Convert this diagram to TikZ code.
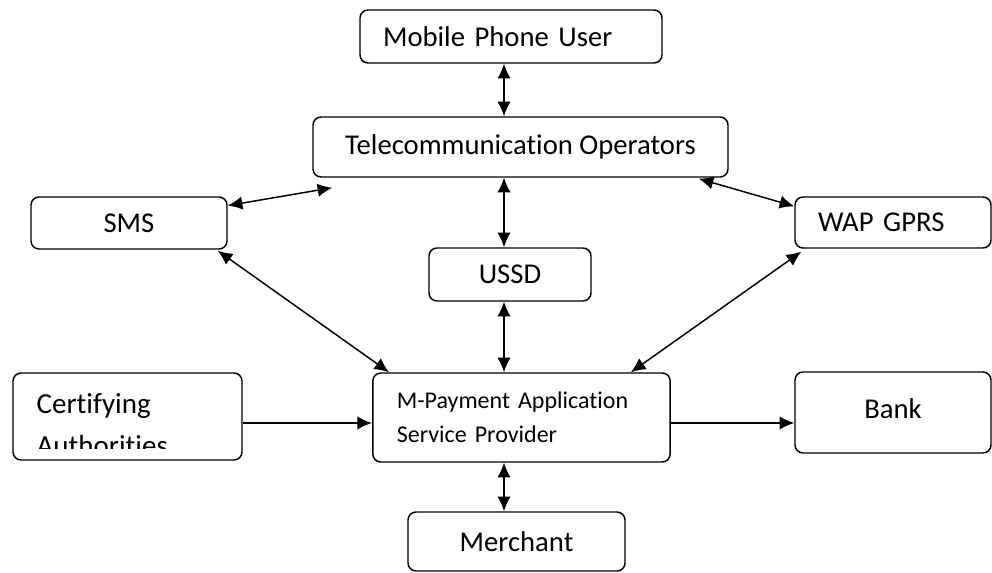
\documentclass[tikz,border=0pt]{standalone}
\usepackage{fontspec}
\setmainfont{Carlito}[Ligatures=NoCommon]
\usetikzlibrary{arrows.meta}
\usetikzlibrary{calc}

\begin{document}
\begin{tikzpicture}[x=0.75pt,y=-0.75pt]
	\tikzstyle{rbox}=[draw, rounded corners=6pt, line width=1.1pt, inner sep=0pt, font=\fontsize{21.5}{26}\selectfont]
	\tikzstyle{lbox}=[rbox, align=left, inner xsep=17.25pt]
	\tikzstyle{link}=[{Latex[length=11pt,width=10pt]}-{Latex[length=11pt,width=10pt]}, line width=1.1pt]
	\tikzstyle{oneway}=[-{Latex[length=11pt,width=10pt]}, line width=1.1pt]
	\useasboundingbox (0,0) rectangle (992,573);
	
	\node[lbox, text width=192pt, minimum height=39.75pt] (mobile) at (511,36.5) {Mobile Phone User};
	\node[rbox, minimum width=311.25pt, minimum height=45pt] (telecom) at (520.5,147) {Telecommunication Operators};
	\node[rbox, minimum width=147pt, minimum height=39pt] (sms) at (129,223) {SMS};
	\node[lbox, text width=112.5pt, minimum height=38.25pt] (wap) at (893,222.5) {WAP GPRS};
	\node[rbox, minimum width=121.5pt, minimum height=39.75pt] (ussd) at (510,274.5) {USSD};
	\node[rbox, minimum width=171.75pt, minimum height=65.25pt] (cert) at (127.5,416.5) {};
	\node[lbox, text width=187pt, inner xsep=18pt, minimum height=66.75pt, font=\fontsize{18}{25.5}\selectfont] (mpay) at (521.5,417.5) {M-Payment Application\\Service Provider};
	\node[rbox, minimum width=147pt, minimum height=60.75pt] (bank) at (893,412.5) {\raisebox{6pt}{Bank}};
	\node[rbox, minimum width=162.75pt, minimum height=44.25pt] (merchant) at (516.5,541.5) {Merchant};
	
	% text of the certifying box is cut off by the box
	\begin{scope}
		\clip (cert.north west) rectangle ($(cert.south east)+(0,-12)$);
		\node[anchor=north west, align=left, inner sep=0pt, font=\fontsize{21.8}{31.5}\selectfont] (certtext) at ($(cert.north west)+(24,21)$) {Certifying\\Authorities};
	\end{scope}
	
	\coordinate (spine) at (504,0);
	\draw[link] (spine |- mobile.south) -- (spine |- telecom.north);
	\draw[link] (spine |- telecom.south) -- (spine |- ussd.north);
	\draw[link] (spine |- ussd.south) -- (spine |- mpay.north);
	\draw[link] (spine |- mpay.south) -- (spine |- merchant.north);
	
	\draw[link] (sms.10) -- ($(telecom.south west)+(20,10)$);
	\draw[link] ($(telecom.south east)+(-30,1)$) -- ($(wap.north west)+(0,10)$);
	\draw[link] ($(sms.south east)+(-10,1)$) -- ($(mpay.north west)+(17,0)$);
	\draw[link] ($(wap.south west)+(7,3)$) -- ($(mpay.north east)+(-40,0)$);
	
	\draw[oneway] ($(cert.east)+(0,6.5)$) -- ($(mpay.west)+(0,5.5)$);
	\draw[oneway] ($(mpay.east)+(0,5.5)$) -- ($(bank.west)+(0,10.5)$);
\end{tikzpicture}
\end{document}
